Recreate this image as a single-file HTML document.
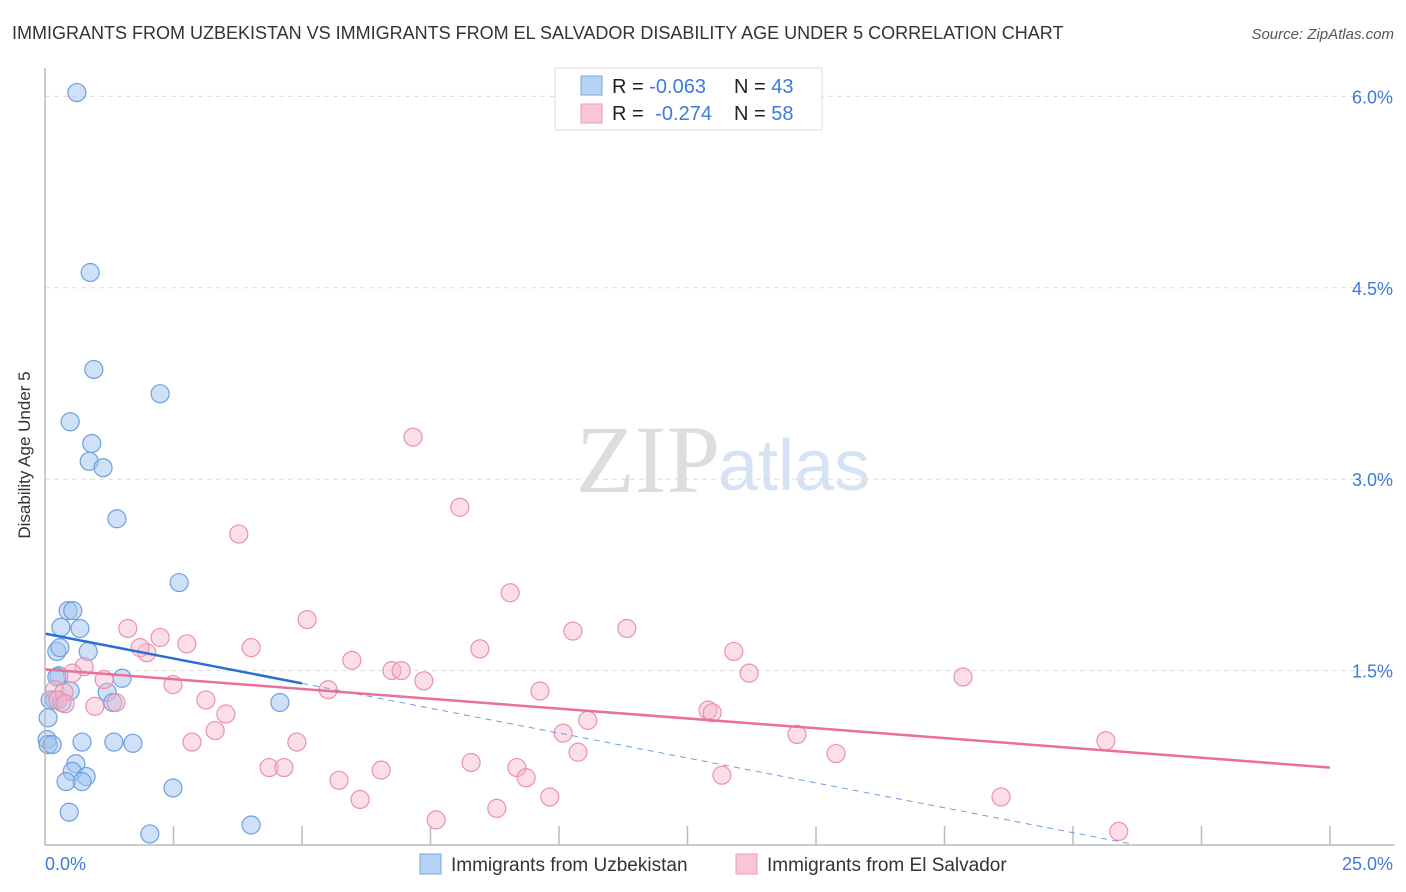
<!DOCTYPE html>
<html><head><meta charset="utf-8"><style>
body{margin:0;background:#fff;font-family:"Liberation Sans",sans-serif;}
svg{display:block}
</style></head><body>
<svg id="c" width="1406" height="892" xmlns="http://www.w3.org/2000/svg">
<text x="12" y="39" font-size="18" fill="#333">IMMIGRANTS FROM UZBEKISTAN VS IMMIGRANTS FROM EL SALVADOR DISABILITY AGE UNDER 5 CORRELATION CHART</text>
<text x="1394" y="39" font-size="15" fill="#555" font-style="italic" text-anchor="end">Source: ZipAtlas.com</text>
<text x="720" y="492" font-size="96" fill="#ddd" font-family="Liberation Serif,serif" text-anchor="end">ZIP</text>
<text x="718" y="490" font-size="72" fill="#d6e3f5">atlas</text>
<g id="grid"></g><g id="pts"></g><g id="lines"></g>
<line x1="45" y1="68" x2="45" y2="845" stroke="#bbb" stroke-width="1.5"/>
<line x1="45" y1="845" x2="1395" y2="845" stroke="#bbb" stroke-width="1.5"/>
<text x="30" y="455" font-size="17" fill="#333" text-anchor="middle" transform="rotate(-90 30 455)">Disability Age Under 5</text>
<text x="45" y="870" font-size="18" fill="#3d7bd9">0.0%</text>
<text x="1393" y="870" font-size="18" fill="#3d7bd9" text-anchor="end">25.0%</text>
<g>
<rect x="555" y="68" width="267" height="62" fill="#fff" stroke="#ddd"/>
<rect x="581" y="76" width="21" height="19" fill="#b7d2f5" stroke="#7aa6e3"/>
<rect x="581" y="104" width="21" height="19" fill="#f9c6d5" stroke="#ee9ab3"/>
<text x="612" y="93" font-size="20" fill="#222">R = <tspan fill="#3d7bd9">-0.063</tspan><tspan x="734">N = </tspan><tspan fill="#3d7bd9">43</tspan></text>
<text x="612" y="120" font-size="20" fill="#222">R = <tspan fill="#3d7bd9" dx="6">-0.274</tspan><tspan x="734">N = </tspan><tspan fill="#3d7bd9">58</tspan></text>
</g>
<g>
<rect x="420" y="854" width="21" height="20" fill="#b7d2f5" stroke="#7aa6e3"/>
<text x="451" y="871" font-size="19" fill="#333">Immigrants from Uzbekistan</text>
<rect x="736" y="854" width="21" height="20" fill="#f9c6d5" stroke="#ee9ab3"/>
<text x="767" y="871" font-size="19" fill="#333">Immigrants from El Salvador</text>
</g>
</svg>
<script>
const yTicks=[1.5,3.0,4.5,6.0];
const yTickLabels=["1.5%","3.0%","4.5%","6.0%"];
const xTicks=[2.5,5,7.5,10,12.5,15,17.5,20,22.5,25];
const blueX=[0.62,0.88,0.95,0.49,2.24,0.91,0.86,1.13,1.40,2.61,0.45,0.54,0.31,0.68,0.23,0.84,0.29,0.27,1.50,0.23,0.49,1.21,1.32,4.57,0.19,0.10,0.33,0.06,0.04,0.06,0.72,1.34,1.71,0.60,0.53,0.80,0.72,0.41,2.49,0.47,2.04,4.01,0.14];
const blueY=[6.03,4.62,3.86,3.45,3.67,3.28,3.14,3.09,2.69,2.19,1.97,1.97,1.84,1.83,1.65,1.65,1.68,1.46,1.44,1.45,1.34,1.33,1.25,1.25,1.27,1.27,1.25,1.13,0.96,0.92,0.94,0.94,0.93,0.77,0.71,0.67,0.63,0.63,0.58,0.39,0.22,0.29,0.92];
const pinkX=[7.16,8.07,3.77,9.05,5.10,1.61,2.24,2.76,4.01,1.98,1.85,10.27,11.32,8.46,13.40,5.97,0.76,0.53,6.75,6.93,13.70,7.37,2.49,17.86,1.15,0.19,0.37,0.25,0.39,0.97,1.38,5.51,9.63,3.13,3.52,12.90,12.98,10.56,3.31,10.08,14.63,2.86,4.90,20.64,10.37,15.39,8.29,4.36,4.65,6.54,9.18,9.36,13.17,5.72,6.13,9.82,18.60,8.79,7.61,20.89];
const pinkY=[3.33,2.78,2.57,2.11,1.90,1.83,1.76,1.71,1.68,1.64,1.68,1.81,1.83,1.67,1.65,1.58,1.53,1.48,1.50,1.50,1.48,1.42,1.39,1.45,1.43,1.35,1.33,1.27,1.24,1.22,1.25,1.35,1.34,1.27,1.16,1.19,1.17,1.11,1.03,1.01,1.00,0.94,0.94,0.95,0.86,0.85,0.78,0.74,0.74,0.72,0.74,0.66,0.68,0.64,0.49,0.51,0.51,0.42,0.33,0.24];
const blueTrend=[1.79,-0.078];
const pinkTrend=[1.51,-0.0308];
const NS='http://www.w3.org/2000/svg';
const X=v=>45+v*51.4, Y=v=>862-v*127.6;
function mk(tag,parent,attrs){const e=document.createElementNS(NS,tag);for(const k in attrs)e.setAttribute(k,attrs[k]);document.getElementById(parent).appendChild(e);return e;}
yTicks.forEach((t,i)=>{
 const g=mk('line','grid',{x1:45,x2:1395,y1:Y(t),y2:Y(t),stroke:'#ddd','stroke-dasharray':'5,4'});
 
 
 const l=mk('text','grid',{x:1393,y:Y(t)+7,'font-size':18,fill:'#3d7bd9','text-anchor':'end'});
 l.textContent=yTickLabels[i];
 
 
});
xTicks.forEach(t=>{
 const k=mk('line','grid',{x1:X(t),x2:X(t),y1:826,y2:845,stroke:'#bbb','stroke-width':1.5});
 
 
});
blueX.forEach((v,i)=>{
 const c=mk('circle','pts',{cx:X(v),cy:Y(blueY[i]),r:9,fill:'rgba(160,196,240,0.5)',stroke:'#6f9fe0','stroke-width':1.2});
 
 
});
pinkX.forEach((v,i)=>{
 const c=mk('circle','pts',{cx:X(v),cy:Y(pinkY[i]),r:9,fill:'rgba(247,182,202,0.45)',stroke:'#ea92ad','stroke-width':1.2});
 
 
});
const bt=x=>blueTrend[0]+blueTrend[1]*x, pt=x=>pinkTrend[0]+pinkTrend[1]*x;
const b1=mk('line','lines',{x1:X(0),y1:Y(bt(0)),x2:X(5),y2:Y(bt(5)),stroke:'#2a6fd6','stroke-width':2.5});


const xEnd=-blueTrend[0]/blueTrend[1]*0.99;
const b2=mk('line','lines',{x1:X(5),y1:Y(bt(5)),x2:X(21.2),y2:Y(bt(21.2)),stroke:'#6f9fe0','stroke-width':1,'stroke-dasharray':'6,5'});


const p1=mk('line','lines',{x1:X(0),y1:Y(pt(0)),x2:X(25),y2:Y(pt(25)),stroke:'#e8709a','stroke-width':2.5});


</script>
</body></html>
